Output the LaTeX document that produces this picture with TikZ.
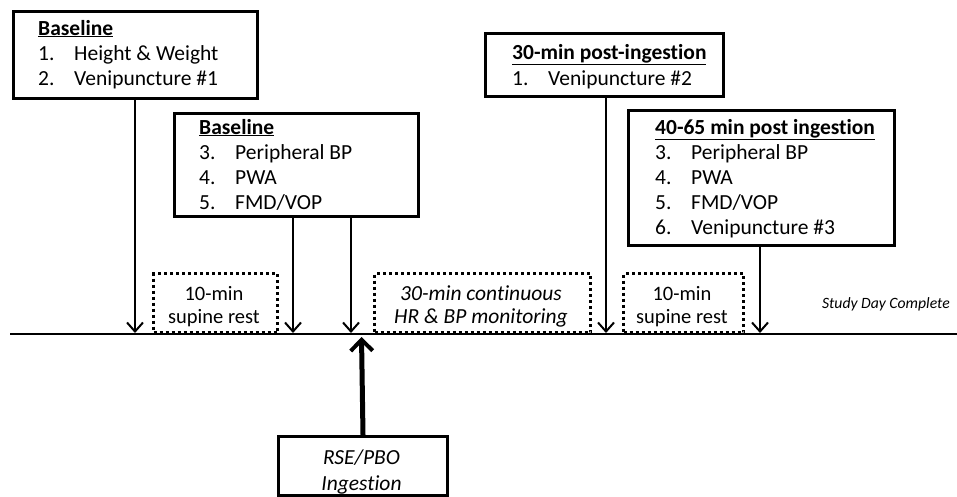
\documentclass[tikz,border=0pt]{standalone}
\usepackage{fontspec}
\setmainfont{Carlito}[Ligatures={NoCommon}]
\usetikzlibrary{arrows.meta}
\begin{document}
\begin{tikzpicture}[x=1pt,y=-1pt,
  box/.style={draw, line width=3pt, inner sep=0pt, anchor=north west},
  dotbox/.style={draw, line width=3pt, dash pattern=on 3pt off 3pt, inner sep=0pt, anchor=north west},
  txt/.style={anchor=base west, inner sep=0pt, font=\fontsize{21.5}{24}\selectfont},
  ctxt/.style={anchor=base, inner sep=0pt, font=\fontsize{20.5}{24}\selectfont},
  itxt/.style={anchor=base, inner sep=0pt, font=\fontsize{21.5}{24}\selectfont\itshape},
  arr/.style={line width=2pt, -{Straight Barb[length=9pt,width=16pt,line width=2pt]}},
  bigarr/.style={line width=5pt, -{Straight Barb[length=11pt,width=22pt,line width=4pt]}},
  tline/.style={line width=2.5pt}
]
\useasboundingbox (0,0) rectangle (957,496);

% timeline
\coordinate (tlL) at (10,334);
\coordinate (tlR) at (957,334);
\draw[tline] (tlL) -- (tlR);

% Box 1
\node[box, minimum width=244pt, minimum height=87pt] (b1) at (12,10) {};
\node[txt] (b1h) at (38,35) {\textbf{\underline{Baseline}}};
\node[txt] (b1n1) at (38,60) {1.};
\node[txt] (b1t1) at (74,60) {Height \& Weight};
\node[txt] (b1n2) at (38,85) {2.};
\node[txt] (b1t2) at (74,85) {Venipuncture \#1};

% Box 2
\node[box, minimum width=244pt, minimum height=103pt] (b2) at (173,112) {};
\node[txt] (b2h) at (199,134) {\textbf{\underline{Baseline}}};
\node[txt] (b2n3) at (199,159) {3.};
\node[txt] (b2t3) at (235,159) {Peripheral BP};
\node[txt] (b2n4) at (199,184) {4.};
\node[txt] (b2t4) at (235,184) {PWA};
\node[txt] (b2n5) at (199,209) {5.};
\node[txt] (b2t5) at (235,209) {FMD/VOP};

% Box 3
\node[box, minimum width=238pt, minimum height=63pt] (b3) at (484,32) {};
\node[txt] (b3h) at (512,59) {\textbf{\underline{30-min post-ingestion}}};
\node[txt] (b3n1) at (512,85) {1.};
\node[txt] (b3t1) at (548,85) {Venipuncture \#2};

% Box 4
\node[box, minimum width=266pt, minimum height=135pt] (b4) at (627,109) {};
\node[txt] (b4h) at (655,134) {\textbf{\underline{40-65 min post ingestion}}};
\node[txt] (b4n3) at (655,159) {3.};
\node[txt] (b4t3) at (691,159) {Peripheral BP};
\node[txt] (b4n4) at (655,184) {4.};
\node[txt] (b4t4) at (691,184) {PWA};
\node[txt] (b4n5) at (655,209) {5.};
\node[txt] (b4t5) at (691,209) {FMD/VOP};
\node[txt] (b4n6) at (655,234) {6.};
\node[txt] (b4t6) at (691,234) {Venipuncture \#3};

% Dotted boxes
\node[dotbox, minimum width=124pt, minimum height=59pt] (d1) at (152,272) {};
\node[ctxt] (d1a) at (214,300) {10-min};
\node[ctxt] (d1b) at (214,323) {supine rest};

\node[dotbox, minimum width=216pt, minimum height=59pt] (d2) at (373,272) {};
\node[itxt] (d2a) at (481,300) {30-min continuous};
\node[itxt] (d2b) at (481,323) {HR \& BP monitoring};

\node[dotbox, minimum width=120pt, minimum height=59pt] (d3) at (622,272) {};
\node[ctxt] (d3a) at (682,300) {10-min};
\node[ctxt] (d3b) at (682,323) {supine rest};

\node[anchor=base east, inner sep=0pt, font=\fontsize{15.7}{18}\selectfont\itshape] (done) at (950,308) {Study Day Complete};

% arrow endpoints on timeline
\coordinate (e1) at (135,333);
\coordinate (e2) at (293,333);
\coordinate (e3) at (351,333);
\coordinate (e4) at (606,333);
\coordinate (e5) at (760,333);

\draw[arr] (b1.south -| e1) -- (e1);
\draw[arr] (b2.south -| e2) -- (e2);
\draw[arr] (b2.south -| e3) -- (e3);
\draw[arr] (b3.south -| e4) -- (e4);
\draw[arr] (b4.south -| e5) -- (e5);

% Ingestion box
\node[box, minimum width=169pt, minimum height=59pt] (ing) at (277,435) {};
\node[itxt] (inga) at (361.5,464) {RSE/PBO};
\node[itxt] (ingb) at (361.5,490) {Ingestion};
\coordinate (e6) at (361.5,337);
\draw[bigarr] (ing.north) -- (e6);
\end{tikzpicture}
\end{document}
